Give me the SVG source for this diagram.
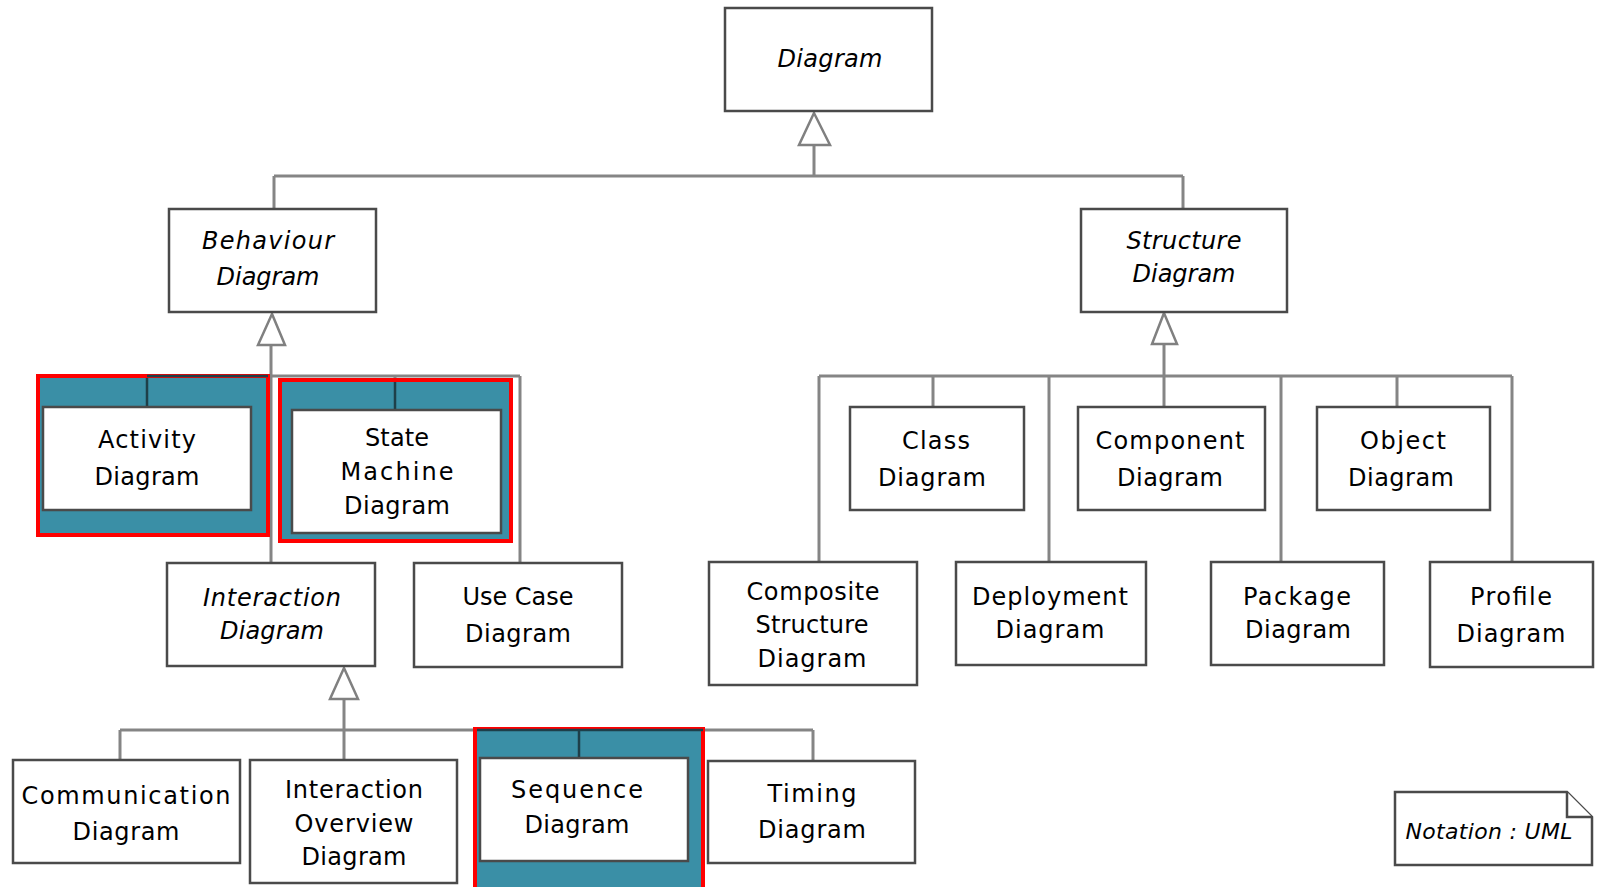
<svg xmlns="http://www.w3.org/2000/svg" width="1598" height="887" viewBox="0 0 1598 887">
<style>
.box{fill:#fff;stroke:#4a4a4a;stroke-width:2.5}
.conn{fill:none;stroke:#858585;stroke-width:3}
.dark{fill:none;stroke:#1e3f49;stroke-width:2.5}
.hl{fill:#3a8fa6;stroke:#ff0000;stroke-width:4}
.arrow{fill:#fff;stroke:#808080;stroke-width:2.5;stroke-linejoin:miter}
.t{font-family:"DejaVu Sans","Liberation Sans",sans-serif;font-size:24px;fill:#000;text-anchor:middle}
.i{font-style:italic}
.s{font-size:22px}
</style>
<rect width="1598" height="887" fill="#fff"/>
<g id="connectors">
<path class="conn" d="M814,145V176M274,176H1183M274,176V209M1183,176V209"/>
<path class="conn" d="M271,345V563M147,376H520M147,376V407M395,376V410M520,376V563"/>
<path class="conn" d="M1164,344V407M819,376H1512M819,376V562M933,376V407M1049,376V562M1281,376V562M1397,376V407M1512,376V562"/>
<path class="conn" d="M344,699V760M120,730H813M120,730V760M579,730V758M813,730V761"/>
<polygon class="arrow" points="814,113 799,145 830,145"/>
<polygon class="arrow" points="272,314 258,345 285,345"/>
<polygon class="arrow" points="1164,313 1152,344 1177,344"/>
<polygon class="arrow" points="344,668 330,699 358,699"/>
</g>
<g id="highlights">
<rect class="hl" x="38" y="376" width="230" height="159"/>
<rect class="hl" x="280" y="380" width="231" height="161"/>
<rect class="hl" x="475" y="729" width="228" height="162"/>
<path class="dark" d="M147,376H268M147,378V407M395,382V410M477,730H703M579,731V758"/>
</g>
<g id="n-diagram"><rect class="box" x="725" y="8" width="207" height="103"/>
<text class="t i" x="830" y="67" textLength="105">Diagram</text></g>
<g id="n-behaviour"><rect class="box" x="169" y="209" width="207" height="103"/>
<text class="t i" x="268" y="249" textLength="132">Behaviour</text>
<text class="t i" x="268" y="285" textLength="103">Diagram</text></g>
<g id="n-structure"><rect class="box" x="1081" y="209" width="206" height="103"/>
<text class="t i" x="1184" y="249" textLength="115">Structure</text>
<text class="t i" x="1184" y="282" textLength="103">Diagram</text></g>
<g id="n-activity"><rect class="box" x="43" y="407" width="208" height="103"/>
<text class="t" x="147" y="448" textLength="98">Activity</text>
<text class="t" x="147" y="485" textLength="105">Diagram</text></g>
<g id="n-state"><rect class="box" x="292" y="410" width="209" height="123"/>
<text class="t" x="397" y="446" textLength="64">State</text>
<text class="t" x="397" y="480" textLength="113">Machine</text>
<text class="t" x="397" y="514" textLength="106">Diagram</text></g>
<g id="n-interaction"><rect class="box" x="167" y="563" width="208" height="103"/>
<text class="t i" x="272" y="606" textLength="138">Interaction</text>
<text class="t i" x="272" y="639" textLength="104">Diagram</text></g>
<g id="n-usecase"><rect class="box" x="414" y="563" width="208" height="104"/>
<text class="t" x="518" y="605" textLength="111">Use Case</text>
<text class="t" x="518" y="642" textLength="106">Diagram</text></g>
<g id="n-communication"><rect class="box" x="13" y="760" width="227" height="103"/>
<text class="t" x="126" y="804" textLength="209">Communication</text>
<text class="t" x="126" y="840" textLength="107">Diagram</text></g>
<g id="n-overview"><rect class="box" x="250" y="760" width="207" height="123"/>
<text class="t" x="354" y="798" textLength="138">Interaction</text>
<text class="t" x="354" y="832" textLength="119">Overview</text>
<text class="t" x="354" y="865" textLength="105">Diagram</text></g>
<g id="n-sequence"><rect class="box" x="480" y="758" width="208" height="103"/>
<text class="t" x="577" y="798" textLength="132">Sequence</text>
<text class="t" x="577" y="833" textLength="105">Diagram</text></g>
<g id="n-timing"><rect class="box" x="708" y="761" width="207" height="102"/>
<text class="t" x="812" y="802" textLength="89">Timing</text>
<text class="t" x="812" y="838" textLength="108">Diagram</text></g>
<g id="n-class"><rect class="box" x="850" y="407" width="174" height="103"/>
<text class="t" x="936" y="449" textLength="68">Class</text>
<text class="t" x="932" y="486" textLength="108">Diagram</text></g>
<g id="n-component"><rect class="box" x="1078" y="407" width="187" height="103"/>
<text class="t" x="1170" y="449" textLength="149">Component</text>
<text class="t" x="1170" y="486" textLength="106">Diagram</text></g>
<g id="n-object"><rect class="box" x="1317" y="407" width="173" height="103"/>
<text class="t" x="1403" y="449" textLength="86">Object</text>
<text class="t" x="1401" y="486" textLength="106">Diagram</text></g>
<g id="n-composite"><rect class="box" x="709" y="562" width="208" height="123"/>
<text class="t" x="813" y="600" textLength="133">Composite</text>
<text class="t" x="812" y="633" textLength="113">Structure</text>
<text class="t" x="812" y="667" textLength="109">Diagram</text></g>
<g id="n-deployment"><rect class="box" x="956" y="562" width="190" height="103"/>
<text class="t" x="1050" y="605" textLength="156">Deployment</text>
<text class="t" x="1050" y="638" textLength="109">Diagram</text></g>
<g id="n-package"><rect class="box" x="1211" y="562" width="173" height="103"/>
<text class="t" x="1297" y="605" textLength="108">Package</text>
<text class="t" x="1298" y="638" textLength="106">Diagram</text></g>
<g id="n-profile"><rect class="box" x="1430" y="562" width="163" height="105"/>
<text class="t" x="1511" y="605" textLength="82">Profile</text>
<text class="t" x="1511" y="642" textLength="109">Diagram</text></g>
<g id="n-note">
<path class="box" d="M1395,792H1567L1592,817V865H1395Z"/>
<path class="box" d="M1567,792V817H1592" fill="none"/>
<text class="t i s" x="1489" y="839" textLength="167">Notation : UML</text>
</g>
</svg>
